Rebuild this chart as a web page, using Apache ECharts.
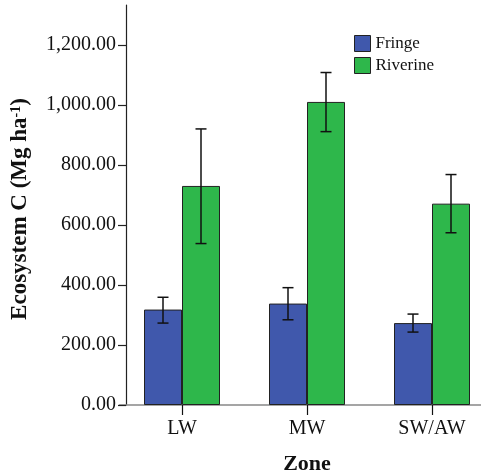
<!DOCTYPE html>
<html>
<head>
<meta charset="utf-8">
<script src="https://cdn.jsdelivr.net/npm/echarts@6/dist/echarts.min.js"></script>
<style>
  html, body { margin: 0; padding: 0; background: #fff; }
  #chart { width: 481px; height: 473px; }
</style>
</head>
<body>
<div id="chart"></div>
<script>
// Ecosystem carbon stocks by zone, with error bars
const zones = ['LW', 'MW', 'SW/AW'];
const fringeMean = [318, 338, 273];
const fringeLow = [273, 284, 243];
const fringeHigh = [359, 391, 303];
const riverineMean = [730, 1010, 671];
const riverineLow = [538, 911, 574];
const riverineHigh = [920, 1108, 768];
const yTicks = [0, 200, 400, 600, 800, 1000, 1200];

const SERIF = '"Liberation Serif", "Times New Roman", serif';
const BAR_W = 38;

function fmt(v) {
  return v.toLocaleString('en-US', { minimumFractionDigits: 2, maximumFractionDigits: 2 });
}

// Error bar renderer; shift is the horizontal offset from the category centre
function errorBars(shift) {
  return function (params, api) {
    const idx = api.value(0);
    const lo = api.coord([idx, api.value(1)]);
    const hi = api.coord([idx, api.value(2)]);
    const x = lo[0] + shift;
    const cap = 5.5;
    const style = { stroke: '#111', lineWidth: 1.5 };
    return {
      type: 'group',
      children: [
        { type: 'line', shape: { x1: x, y1: lo[1], x2: x, y2: hi[1] }, style: style },
        { type: 'line', shape: { x1: x - cap, y1: hi[1], x2: x + cap, y2: hi[1] }, style: style },
        { type: 'line', shape: { x1: x - cap, y1: lo[1], x2: x + cap, y2: lo[1] }, style: style }
      ]
    };
  };
}

const chart = echarts.init(document.getElementById('chart'), null, { renderer: 'canvas' });

chart.setOption({
  animation: false,
  backgroundColor: '#ffffff',
  grid: { left: 119.5, top: 5, width: 375, bottom: 68, containLabel: false, outerBoundsMode: 'none' },
  legend: {
    orient: 'vertical',
    left: 349,
    top: 30,
    itemWidth: 16,
    itemHeight: 16,
    itemGap: 5,
    icon: 'rect',
    itemStyle: { borderColor: '#222', borderWidth: 1 },
    textStyle: { fontFamily: SERIF, fontSize: 17, color: '#111' },
    data: ['Fringe', 'Riverine']
  },
  xAxis: {
    type: 'category',
    data: zones,
    boundaryGap: true,
    name: 'Zone',
    nameLocation: 'middle',
    nameGap: 48,
    nameTextStyle: { fontFamily: SERIF, fontSize: 22, fontWeight: 'bold', color: '#111' },
    axisLine: { show: true, lineStyle: { color: '#888', width: 1.5 } },
    axisTick: { show: true, alignWithLabel: true, length: 10, lineStyle: { color: '#111', width: 1.2 } },
    axisLabel: { fontFamily: SERIF, fontSize: 20, color: '#111', margin: 14 },
    splitLine: { show: false }
  },
  yAxis: {
    type: 'value',
    min: 0,
    max: 1333,
    offset: -6.5,
    name: '{a|Ecosystem C (Mg ha}{s|-1}{a|)}',
    nameLocation: 'middle',
    nameGap: 94,
    nameRotate: 90,
    nameTextStyle: {
      padding: [0, 8, 0, 0],
      rich: {
        a: { fontFamily: SERIF, fontSize: 23, fontWeight: 'bold', color: '#111' },
        s: { fontFamily: SERIF, fontSize: 14, fontWeight: 'bold', color: '#111', verticalAlign: 'top', padding: [0, 0, 8, 0] }
      }
    },
    axisLine: { show: true, lineStyle: { color: '#222', width: 1.2 } },
    axisTick: { show: true, inside: false, length: 8, customValues: yTicks, lineStyle: { color: '#222', width: 1.2 } },
    axisLabel: { fontFamily: SERIF, fontSize: 20, color: '#111', margin: 10, customValues: yTicks, formatter: fmt },
    splitLine: { show: false }
  },
  series: [
    {
      name: 'Fringe',
      type: 'bar',
      data: fringeMean,
      barWidth: BAR_W,
      barGap: '0%',
      itemStyle: { color: '#4058ac', borderColor: '#222', borderWidth: 1 }
    },
    {
      name: 'Riverine',
      type: 'bar',
      data: riverineMean,
      barWidth: BAR_W,
      barGap: '0%',
      itemStyle: { color: '#2eb74b', borderColor: '#222', borderWidth: 1 }
    },
    {
      type: 'custom',
      name: 'Fringe range',
      renderItem: errorBars(-BAR_W / 2),
      data: zones.map((z, i) => [i, fringeLow[i], fringeHigh[i]]),
      encode: { x: 0, y: [1, 2] },
      z: 10
    },
    {
      type: 'custom',
      name: 'Riverine range',
      renderItem: errorBars(BAR_W / 2),
      data: zones.map((z, i) => [i, riverineLow[i], riverineHigh[i]]),
      encode: { x: 0, y: [1, 2] },
      z: 10
    }
  ]
});
</script>
</body>
</html>
